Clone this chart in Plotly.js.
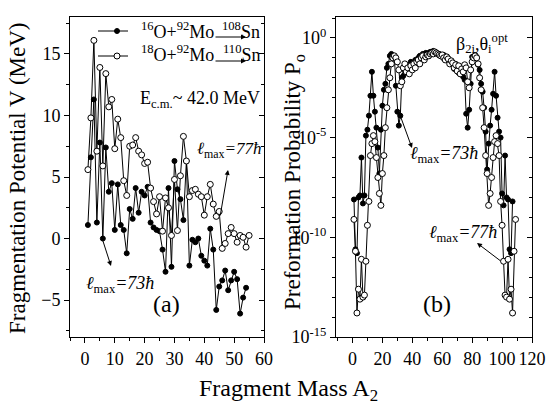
<!DOCTYPE html>
<html>
<head>
<meta charset="utf-8">
<script src="https://cdn.plot.ly/plotly-3.0.1.min.js"></script>
<style>html,body{margin:0;padding:0;background:#fff;}#chart{width:546px;height:405px;}</style>
</head>
<body>
<div id="chart"></div>
<script>
// ---------- Panel (a): fragmentation potential V (MeV) vs fragment mass A2 ----------
const massA16 = [1,2,3,4,5,6,7,8,9,10,11,12,13,14,15,16,17,18,19,20,21,22,23,24,25,26,27,28,29,30,31,32,33,34,35,36,37,38,39,40,41,42,43,44,45,46,47,48,49,50,51,52,53,54];
const potV16 = [1.1,6.6,11.3,1.3,7.8,0.0,7.4,3.8,4.5,0.7,4.4,1.1,0.7,-1.2,2.4,1.6,4.1,2.1,3.8,3.5,4.2,1.3,0.9,0.7,0.6,-0.9,-2.7,4.1,-2.3,6.3,4.0,3.2,1.5,6.3,-2.2,-0.1,-0.3,0.0,-1.4,-1.8,-2.2,0.8,-0.9,-5.8,-3.9,-3.4,-2.6,-4.2,-3.4,-2.7,-3.3,-6.1,-4.8,-4.0];
const massA18 = [1,2,3,4,5,6,7,8,9,10,11,12,13,14,15,16,17,18,19,20,21,22,23,24,25,26,27,28,29,30,31,32,33,34,35,36,37,38,39,40,41,42,43,44,45,46,47,48,49,50,51,52,53,54,55];
const potV18 = [5.6,9.8,16.1,7.1,13.9,5.9,13.4,10.7,11.3,7.3,9.7,8.2,4.7,3.5,7.5,7.6,8.2,7.1,6.8,6.1,6.2,4.1,3.0,2.0,3.4,0.6,3.3,2.5,0.25,4.8,0.65,5.1,8.3,6.3,3.4,3.9,4.0,3.6,3.4,1.9,3.4,4.4,2.8,1.8,2.2,-0.8,-0.4,0.4,0.9,0.4,-0.3,0.25,0.1,-0.7,0.25];

// ---------- Panel (b): preformation probability P0 vs fragment mass A2 ----------
const massB16 = [1,2,3,4,5,6,7,8,9,10,11,12,13,14,15,16,17,18,19,20,21,22,23,24,25,26,27,28,29,30,31,32,33,34,35,36,37,38,39,40,41,42,43,44,45,46,47,48,49,50,51,52,53,54,55,56,57,58,59,60,61,62,63,64,65,66,67,68,69,70,71,72,73,74,75,76,77,78,79,80,81,82,83,84,85,86,87,88,89,90,91,92,93,94,95,96,97,98,99,100,101,102,103,104,105,106,107];
const probP16 = [7.9e-9,2.5e-11,1.6e-11,1e-8,1.26e-8,1e-6,5.0e-9,1.26e-8,1.26e-5,2.5e-5,
  1.26e-4,1.26e-3,2.0e-2,1.26e-3,2.0e-4,3.16e-5,3.16e-6,1.6e-7,2.5e-5,4.0e-4,
  2.5e-3,5.0e-3,3.16e-2,5.0e-2,0.126,0.158,0.1,0.126,4.0e-3,2.0e-4,
  4.0e-5,1.26e-4,1e-2,1.26e-2,2.5e-2,4.0e-2,2.0e-2,4.0e-2,6.3e-2,3.16e-2,
  5.0e-2,7.9e-2,6.3e-2,0.1,0.126,0.1,0.158,0.126,0.178,0.158,
  0.178,0.2,0.178,0.224,0.2,0.178,0.158,0.158,0.141,0.126,
  0.141,0.1,0.112,7.9e-2,5.6e-2,7.1e-2,4.5e-2,2.8e-2,5.0e-2,3.5e-2,
  1.78e-2,3.5e-2,2.2e-2,1.12e-2,7.9e-3,1.58e-4,3.16e-5,2.5e-4,5.0e-3,0.112,
  8.9e-2,0.141,0.112,4.5e-2,2.5e-2,5.0e-3,2.0e-3,3.16e-4,2.0e-5,2.5e-7,
  5.0e-6,4.0e-5,2.5e-4,1.58e-3,2.0e-2,1.26e-3,1e-4,2.0e-5,1e-5,1.58e-8,
  4.0e-9,1.26e-6,1e-8,7.9e-9,2.5e-11,1.6e-11,6.3e-9];
const massB18 = [1,2,3,4,5,6,7,8,9,10,11,12,13,14,15,16,17,18,19,20,21,22,23,24,25,26,27,28,29,30,31,32,33,34,35,36,37,38,39,40,41,42,43,44,45,46,47,48,49,50,51,52,53,54,55,56,57,58,59,60,61,62,63,64,65,66,67,68,69,70,71,72,73,74,75,76,77,78,79,80,81,82,83,84,85,86,87,88,89,90,91,92,93,94,95,96,97,98,99,100,101,102,103,104,105,106,107,108,109];
const probP18 = [7.9e-10,2.0e-11,1.6e-14,2.5e-13,7.9e-14,7.9e-12,1e-13,1.26e-13,6.3e-12,4.0e-10,
  6.3e-9,1.26e-6,5.0e-6,1.26e-5,6.3e-6,1e-6,1e-7,1.58e-8,4.0e-9,1.58e-7,
  1.26e-6,3.16e-5,3.16e-4,2.5e-3,1e-2,5.0e-2,0.1,0.126,0.1,6.3e-2,
  2.5e-2,4.0e-3,6.3e-3,3.16e-2,5.0e-2,2.0e-2,3.16e-2,1.58e-2,4.0e-2,2.5e-2,
  5.0e-2,3.16e-2,6.3e-2,7.9e-2,5.0e-2,0.1,0.126,7.9e-2,0.112,0.141,
  0.126,0.158,0.178,0.158,0.2,0.178,0.158,0.141,0.126,0.141,
  0.1,7.9e-2,0.112,8.9e-2,5.0e-2,7.1e-2,5.6e-2,3.16e-2,4.5e-2,2.2e-2,
  4.0e-2,1.58e-2,2.8e-2,2.0e-2,4.5e-2,3.16e-2,6.3e-3,3.16e-3,2.5e-2,6.3e-2,
  0.1,0.126,0.1,5.0e-2,1e-2,2.5e-3,3.16e-4,3.16e-5,1.26e-6,1.58e-7,
  4.0e-9,1.58e-8,1e-7,1e-6,6.3e-6,1.26e-5,5.0e-6,1.26e-6,6.3e-9,4.0e-10,
  6.3e-12,1.26e-13,1e-13,7.9e-12,7.9e-14,2.5e-13,1.6e-14,2.0e-11,7.9e-10];

const reaction16 = '<sup>16</sup>O+<sup>92</sup>Mo';
const reaction18 = '<sup>18</sup>O+<sup>92</sup>Mo';
const product16 = '<sup>108</sup>Sn';
const product18 = '<sup>110</sup>Sn';
const vTickVals = [-5, 0, 5, 10, 15];
const logTickVals = [1, 1e-5, 1e-10, 1e-15];
const logTickText = ['10<sup>0</sup>', '10<sup>-5</sup>', '10<sup>-10</sup>', '10<sup>-15</sup>'];
const logMinorVals = [10,1,1e-1,1e-2,1e-3,1e-4,1e-5,1e-6,1e-7,1e-8,1e-9,1e-10,1e-11,1e-12,1e-13,1e-14,1e-15];

const W = 546, H = 405;
const px = v => v / W, py = v => 1 - v / H;
const serif = '"Liberation Serif", "Times New Roman", Times, serif';

const filledMarker = {symbol:'circle', size:5, color:'black', line:{color:'black', width:1}};
const openMarker = {symbol:'circle', size:6, color:'white', line:{color:'black', width:1}};
const ln = {color:'black', width:1};

const traces = [
  {x:massA16, y:potV16, xaxis:'x', yaxis:'y', mode:'lines+markers', name:reaction16, line:ln, marker:filledMarker},
  {x:massA18, y:potV18, xaxis:'x', yaxis:'y', mode:'lines+markers', name:reaction18, line:ln, marker:openMarker},
  {x:massB16, y:probP16, xaxis:'x2', yaxis:'y2', mode:'lines+markers', name:reaction16, line:ln, marker:filledMarker},
  {x:massB18, y:probP18, xaxis:'x2', yaxis:'y2', mode:'lines+markers', name:reaction18, line:ln, marker:openMarker},
  // empty helpers so the right-hand (inward tick) axes are drawn
  {x:[], y:[], xaxis:'x', yaxis:'y3', mode:'lines', hoverinfo:'skip'},
  {x:[], y:[], xaxis:'x2', yaxis:'y4', mode:'lines', hoverinfo:'skip'}
];

const axCommon = {showline:true, linecolor:'black', linewidth:1, mirror:true, showgrid:false, zeroline:false,
  ticks:'outside', ticklen:5, tickwidth:1, tickcolor:'black', tickfont:{size:18, family:serif}};
const axRight = {showline:false, showgrid:false, zeroline:false, showticklabels:false,
  ticks:'inside', ticklen:5, tickwidth:1, tickcolor:'black', side:'right'};

const ann = (x, y, text, opts) => Object.assign({xref:'paper', yref:'paper', x:px(x), y:py(y), text:text, showarrow:false,
  xanchor:'left', yanchor:'middle', font:{size:18, family:serif, color:'black'}}, opts || {});
const arrow = (hx, hy, tx, ty) => ({xref:'paper', yref:'paper', x:px(hx), y:py(hy), ax:tx-hx, ay:ty-hy, text:'',
  showarrow:true, arrowhead:2, arrowsize:1, arrowwidth:1, arrowcolor:'black', standoff:0, startstandoff:0});
const seg = (x0, y0, x1, y1) => ({type:'line', xref:'paper', yref:'paper', x0:px(x0), y0:py(y0), x1:px(x1), y1:py(y1),
  line:{color:'black', width:1}});
const dot = (cx, cy, r, fill) => ({type:'circle', xref:'paper', yref:'paper', x0:px(cx-r), x1:px(cx+r), y0:py(cy+r), y1:py(cy-r),
  fillcolor:fill, line:{color:'black', width:1}});

const layout = {
  width:W, height:H, margin:{l:0, r:0, t:0, b:0},
  paper_bgcolor:'white', plot_bgcolor:'white',
  font:{family:serif, size:18, color:'black'},
  showlegend:false,
  xaxis:Object.assign({}, axCommon, {domain:[px(70), px(264)], range:[-5,60], dtick:10, tick0:0, anchor:'y',
    minor:{dtick:5, tick0:0, ticks:'outside', ticklen:3, tickcolor:'black'}}),
  yaxis:Object.assign({}, axCommon, {domain:[py(337), py(17)], range:[-8,18], tickvals:vTickVals, anchor:'x',
    minor:{dtick:2.5, tick0:0, ticks:'outside', ticklen:3, tickcolor:'black'}}),
  yaxis3:Object.assign({}, axRight, {overlaying:'y', anchor:'x', range:[-8,18], tickvals:vTickVals,
    minor:{dtick:2.5, tick0:0, ticks:'inside', ticklen:3, tickcolor:'black'}}),
  xaxis2:Object.assign({}, axCommon, {domain:[px(336), px(532)], range:[-11,120], dtick:20, tick0:0, anchor:'y2',
    minor:{dtick:10, tick0:0, ticks:'outside', ticklen:3, tickcolor:'black'}}),
  yaxis2:Object.assign({}, axCommon, {domain:[py(337), py(17)], type:'log', range:[-15,1.05], anchor:'x2',
    tickvals:logTickVals, ticktext:logTickText,
    minor:{tickvals:logMinorVals, ticks:'outside', ticklen:3, tickcolor:'black'}}),
  yaxis4:Object.assign({}, axRight, {overlaying:'y2', anchor:'x2', type:'log', range:[-15,1.05],
    tickvals:logTickVals, minor:{tickvals:logMinorVals, ticks:'inside', ticklen:3, tickcolor:'black'}}),
  shapes:[
    seg(98, 31, 128, 31), dot(117, 31, 2.5, 'black'),
    seg(98, 56, 128, 56), dot(117, 56, 3, 'white')
  ],
  annotations:[
    ann(139, 30, reaction16),
    arrow(246, 37, 214, 37),
    ann(262, 30, product16, {xanchor:'right'}),
    ann(139, 54, reaction18),
    arrow(246, 61, 214, 61),
    ann(262, 54, product18, {xanchor:'right'}),
    ann(138, 99, 'E<sub>c.m.</sub>~ 42.0 MeV'),
    ann(84, 284, '<i>ℓ</i><sub>max</sub><i>=73ħ</i>'),
    arrow(111, 266, 102, 238),
    ann(195, 150, '<i>ℓ</i><sub>max</sub><i>=77ħ</i>', {font:{size:17, family:serif, color:'black'}}),
    arrow(228, 170, 220, 217),
    ann(166, 304, '(a)', {xanchor:'center', font:{size:24, family:serif, color:'black'}}),
    ann(454, 44, 'β<sub>2i</sub>,θ<sub>i</sub><sup>opt</sup>'),
    ann(408, 155, '<i>ℓ</i><sub>max</sub><i>=73ħ</i>'),
    arrow(412, 148, 400, 115),
    ann(427, 233, '<i>ℓ</i><sub>max</sub><i>=77ħ</i>'),
    arrow(477, 243, 502, 262),
    ann(437, 304, '(b)', {xanchor:'center', font:{size:24, family:serif, color:'black'}}),
    ann(288, 390, 'Fragment Mass A<sub>2</sub>', {xanchor:'center', font:{size:24, family:serif, color:'black'}}),
    ann(17, 178, 'Fragmentation Potential V (MeV)', {xanchor:'center', textangle:-90, font:{size:23, family:serif, color:'black'}}),
    ann(294, 182, 'Preformation Probability P<sub>o</sub>', {xanchor:'center', textangle:-90, font:{size:23, family:serif, color:'black'}})
  ]
};

Plotly.newPlot('chart', traces, layout, {displayModeBar:false, staticPlot:true});
</script>
</body>
</html>
